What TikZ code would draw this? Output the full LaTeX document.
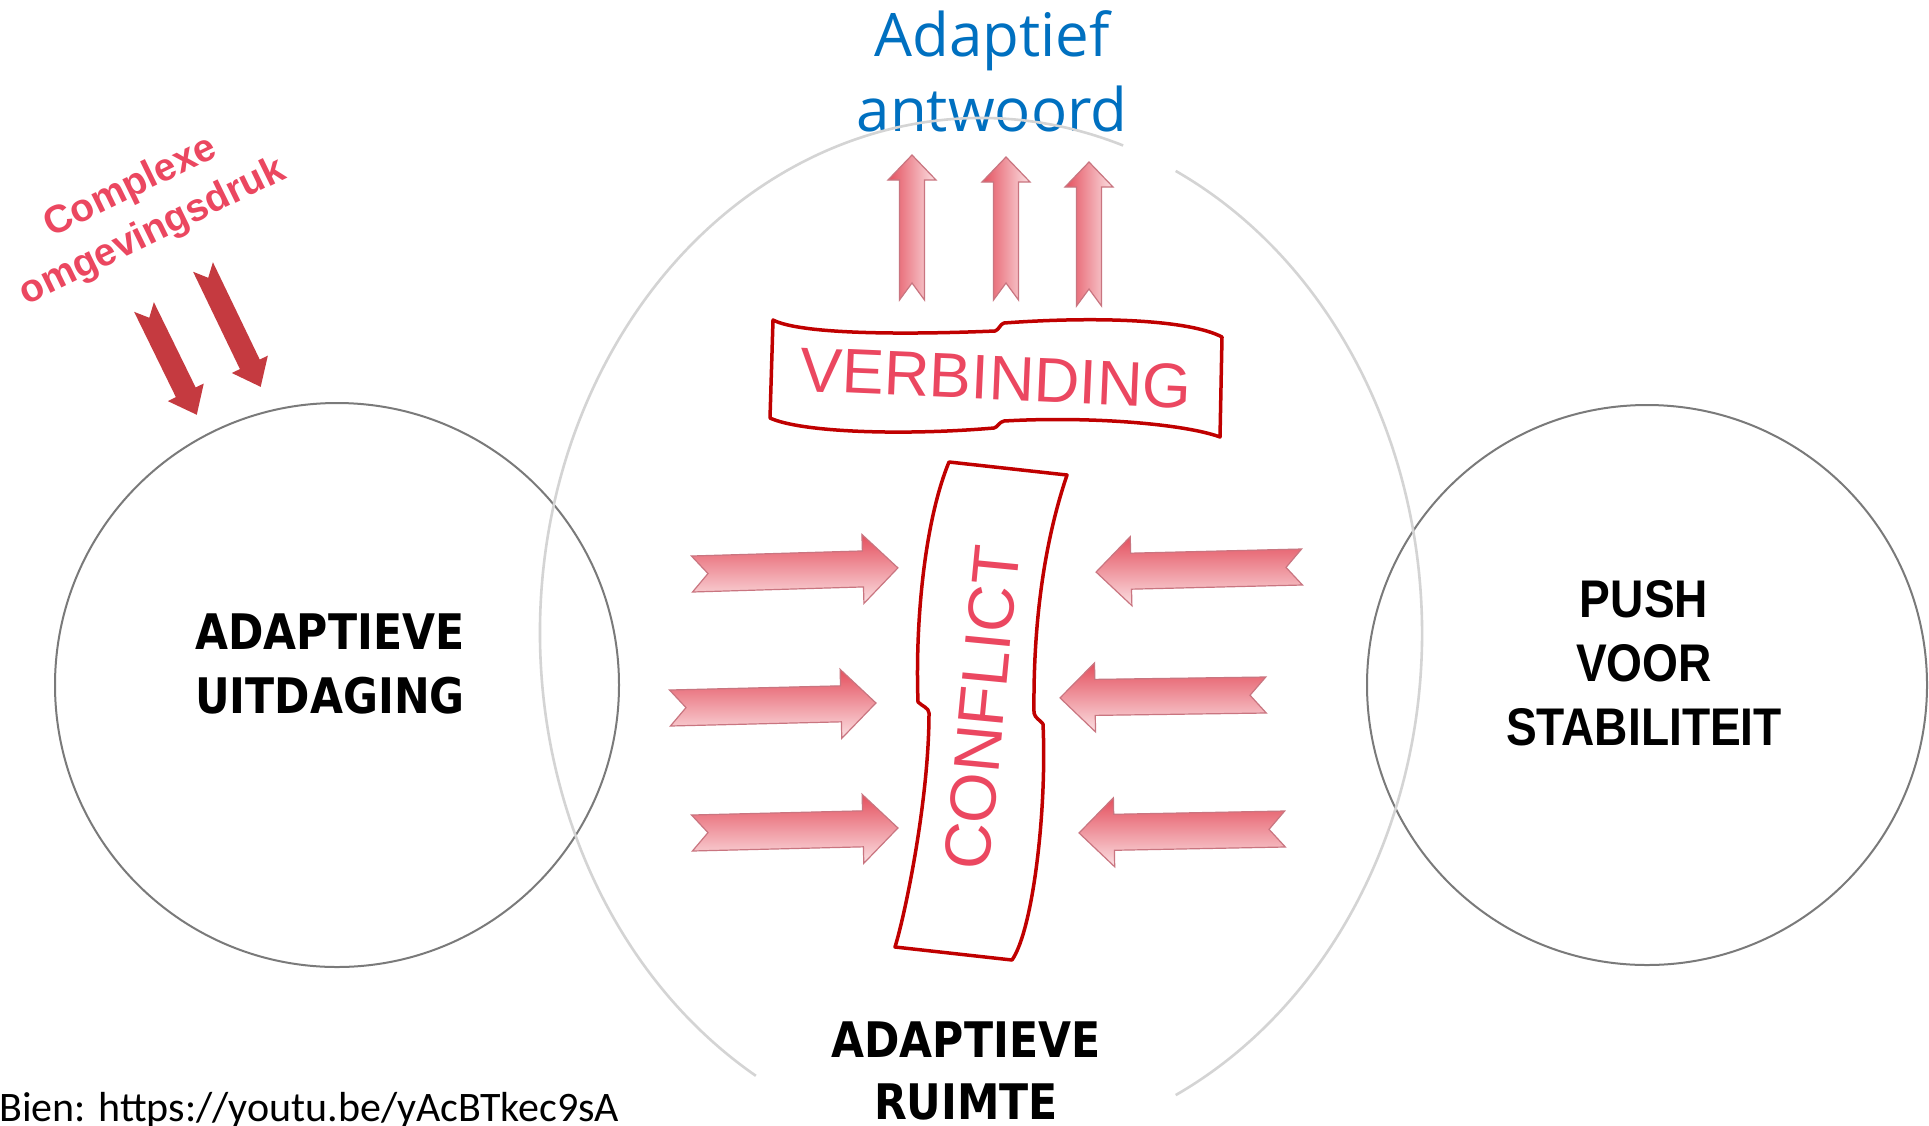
\documentclass[tikz,border=0pt]{standalone}
\usepackage{fontspec}
\setmainfont{Liberation Sans}
\newfontfamily\heavyfont[FakeStretch=0.87]{DejaVu Sans}
\newfontfamily\pushfont[FakeStretch=0.87]{Liberation Sans}
\newfontfamily\answerfont{Open Sans}
\newfontfamily\notefont{Carlito}

\definecolor{ringgray}{HTML}{7A7A7A}
\definecolor{palegray}{HTML}{D4D4D4}
\definecolor{answerblue}{HTML}{0070C0}
\definecolor{alarmred}{HTML}{EB4760}
\definecolor{bannerred}{HTML}{C00000}
\definecolor{pressred}{HTML}{C53A40}
\definecolor{arrowdark}{HTML}{E4505E}
\definecolor{arrowpale}{HTML}{FBE0E3}
\definecolor{arrowedge}{HTML}{C97580}

\tikzset{
  ring/.style={draw=ringgray, line width=2pt, circle, inner sep=0pt},
  bigring/.style={draw=palegray, line width=2.6pt},
  heavylabel/.style={font=\heavyfont\bfseries\fontsize{49}{64}\selectfont, align=center, inner sep=0pt},
  pushlabel/.style={font=\pushfont\bfseries\fontsize{53}{64}\selectfont, align=center, inner sep=0pt},
  banner/.style={draw=bannerred, line width=3.5pt, fill=white, line join=round},
  bannertext/.style={font=\fontsize{63}{70}\selectfont, text=alarmred, inner sep=0pt},
  sidepush/.style={draw=arrowedge, line width=1.2pt, top color=arrowdark, bottom color=arrowpale},
  risepush/.style={draw=arrowedge, line width=1.2pt, left color=arrowdark, right color=arrowpale},
}

% horizontal block arrow: tail point, mirror (1 = right, -1 = left), tilt
\newcommand{\sidearrow}[3]{%
  \begin{scope}[shift={#1}, xscale=#2, rotate=#3]
    \path[sidepush] (0,-18) -- (171,-18) -- (171,-34.5) -- (206,0) -- (171,34.5)
      -- (171,18) -- (0,18) -- (16,0) -- cycle;
  \end{scope}}

% upward block arrow: tail point, length
\newcommand{\risearrow}[2]{%
  \begin{scope}[shift={#1}]
    \path[risepush] (-12.5,0) -- (-12.5,{25-#2}) -- (-24,{25-#2}) -- (0,-#2)
      -- (24,{25-#2}) -- (12.5,{25-#2}) -- (12.5,0) -- (0,-17) -- cycle;
  \end{scope}}

% dark pressure arrow: tail point, angle, length
\newcommand{\pressarrow}[3]{%
  \begin{scope}[shift={#1}, rotate=#2]
    \path[fill=pressred] (0,-11) -- ({#3-25},-11) -- ({#3-25},-20) -- (#3,0)
      -- ({#3-25},20) -- ({#3-25},11) -- (0,11) -- (12,0) -- cycle;
  \end{scope}}

\begin{document}
\begin{tikzpicture}[x=1pt, y=-1pt]
\useasboundingbox[fill=white] (0,0) rectangle (1929,1125);

% the three areas
\node[ring, minimum size=564] (challengering) at (337,685) {};
\node[ring, minimum size=560] (stabilityring) at (1647,685) {};

% outside pressure
\node[font=\bfseries\fontsize{39}{50}\selectfont, text=alarmred, align=center, rotate=26, inner sep=0pt]
  (pressure) at (142,210) {Complexe\\omgevingsdruk};
\pressarrow{(203,267)}{-64.3}{133}
\pressarrow{(144,307)}{-63.9}{120}

% answer on top
\node[font=\answerfont\fontsize{60}{75}\selectfont, text=answerblue, align=center, inner sep=0pt, anchor=south]
  (answer) at (992,132) {Adaptief\\antwoord};

% adaptive space, open where the labels sit
\coordinate (spacecentre) at (981,633);
\draw[bigring] (spacecentre) ++(120.7:441 and 515)
  arc[start angle=120.7, end angle=288.8, x radius=441, y radius=515];
\draw[bigring] (spacecentre) ++(296.2:441 and 515)
  arc[start angle=296.2, end angle=423.8, x radius=441, y radius=515];

\risearrow{(912,300)}{145}
\risearrow{(1006,300)}{143}
\risearrow{(1089,306)}{144}

% connection banner
\path[banner] (773,320) .. controls (800,334) and (900,335) .. (995,331)
  .. controls (999,330) and (1000,324) .. (1004,323)
  .. controls (1100,316) and (1190,320) .. (1222,337)
  -- (1220,437) .. controls (1185,424) and (1090,416) .. (1004,421)
  .. controls (999,422) and (998,427) .. (994,428)
  .. controls (900,436) and (800,432) .. (770,418) -- cycle;
\node[bannertext, rotate=-2.5] (connection) at (996,378) {VERBINDING};

% pushing from both sides
\sidearrow{(692,574)}{1}{1.7}
\sidearrow{(670,708)}{1}{1.4}
\sidearrow{(692,833)}{1}{1.4}
\sidearrow{(1302,567)}{-1}{-1.4}
\sidearrow{(1266,695)}{-1}{-0.8}
\sidearrow{(1285,829)}{-1}{-1.1}

% conflict banner
\path[banner] (949,462) -- (1067,475)
  .. controls (1045,540) and (1033,620) .. (1034,713)
  .. controls (1035,718) and (1040,720) .. (1043,724)
  .. controls (1047,810) and (1033,930) .. (1012,960)
  -- (895,947) .. controls (905,915) and (929,800) .. (929,713)
  .. controls (929,708) and (922,706) .. (918,702)
  .. controls (915,620) and (925,520) .. (949,462) -- cycle;
\node[bannertext, font=\fontsize{65}{70}\selectfont, rotate=84.5] (conflict) at (982,708) {CONFLICT};

% labels
\node[heavylabel, anchor=south] (challenge) at (330,714) {ADAPTIEVE\\UITDAGING};
\node[pushlabel, anchor=south] (stability) at (1644,746) {PUSH\\VOOR\\STABILITEIT};
\node[heavylabel, anchor=south, font=\heavyfont\bfseries\fontsize{49}{62}\selectfont] (space) at (966,1120) {ADAPTIEVE\\RUIMTE};

\node[font=\notefont\fontsize{42}{50}\selectfont, anchor=base west, inner sep=0pt] (source) at (-1,1121)
  {Bien: https://youtu.be/yAcBTkec9sA};
\end{tikzpicture}
\end{document}
